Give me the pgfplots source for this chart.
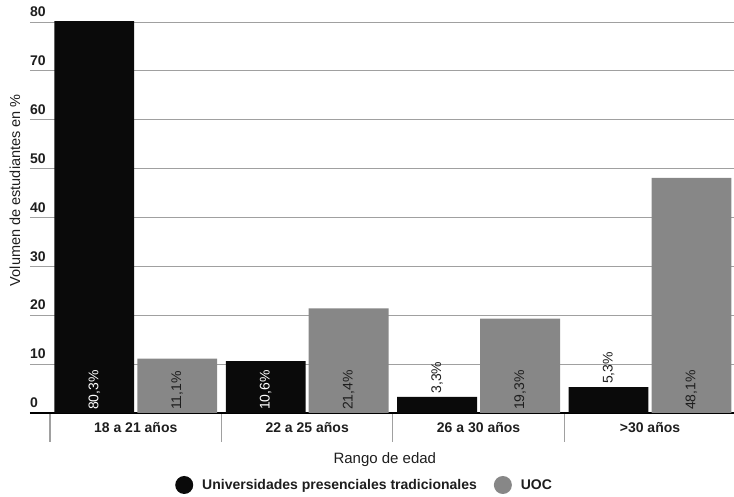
\documentclass[border=0pt]{standalone}
\usepackage{pgfplots}
\pgfplotsset{compat=1.18}
\usepackage{fontspec}
\setmainfont{Liberation Sans}
\definecolor{barblack}{RGB}{10,10,10}
\definecolor{bargray}{RGB}{135,135,135}
\definecolor{gridgray}{RGB}{160,160,160}
\definecolor{txt}{RGB}{30,30,30}
\begin{document}
\begin{tikzpicture}
\begin{axis}[
  name=ax,
  scale only axis,
  width=704bp, height=391bp,
  xmin=-0.617, xmax=3.49,
  ymin=0, ymax=80,
  axis x line*=bottom,
  axis y line*=left,
  x axis line style={black, line width=1.2bp},
  y axis line style={draw=none},
  ytick={0,10,...,80},
  ymajorgrids,
  grid style={gridgray, line width=0.8bp},
  major y tick style={draw=none},
  major tick length=0pt,
  tick align=outside,
  /pgf/number format/assume math mode=true,
  yticklabel style={anchor=south west, inner sep=0pt, yshift=5bp, font=\fontsize{14bp}{16bp}\selectfont\bfseries, text=txt},
  xtick={0,1,2,3},
  xticklabels={18 a 21 años, 22 a 25 años, 26 a 30 años, >30 años},
  xticklabel style={yshift=-6bp, font=\fontsize{14bp}{16bp}\selectfont\bfseries, text=txt},
  major x tick style={draw=none},
  minor xtick={-0.5,0.5,1.5,2.5},
  minor tick length=29bp,
  minor x tick style={gridgray, line width=1.2bp},
  xtick pos=bottom,
  xlabel={Rango de edad},
  xlabel style={at={(axis description cs:0.504,0)}, anchor=center, yshift=-47bp, font=\fontsize{15bp}{17bp}\selectfont, text=txt},
  ylabel={Volumen de estudiantes en \%},
  ylabel style={at={(axis description cs:-0.0213,0.57)}, anchor=center, font=\fontsize{14.5bp}{17bp}\selectfont, text=txt},
  legend columns=2,
  legend style={at={(axis description cs:0.206,0)}, anchor=west, yshift=-72bp, draw=none, inner sep=0pt,
    font=\fontsize{14bp}{16bp}\selectfont\bfseries, text=txt,
    /tikz/every odd column/.append style={column sep=7bp},
    /tikz/every even column/.append style={column sep=15bp}},
]
\addplot[ybar, bar width=0.466, bar shift=-0.242, fill=barblack, draw=none,
  legend image code/.code={\fill[barblack] (0bp,0bp) circle (9bp);}]
  coordinates {(0,80.3) (1,10.6) (2,3.3) (3,5.3)};
\addlegendentry{Universidades presenciales tradicionales}
\addplot[ybar, bar width=0.466, bar shift=0.242, fill=bargray, draw=none,
  legend image code/.code={\fill[bargray] (0bp,0bp) circle (9bp);}]
  coordinates {(0,11.1) (1,21.4) (2,19.3) (3,48.1)};
\addlegendentry{UOC}
% value labels
\addplot[forget plot, draw=none, mark=none, nodes near coords, point meta=explicit symbolic,
  every node near coord/.style={rotate=90, anchor=west, inner sep=3bp, text=white, font=\fontsize{14bp}{16bp}\selectfont}]
  coordinates {(-0.242,0) [80,3\%] (0.758,0) [10,6\%]};
\addplot[forget plot, draw=none, mark=none, nodes near coords, point meta=explicit symbolic,
  every node near coord/.style={rotate=90, anchor=west, inner sep=3bp, text=txt, font=\fontsize{14bp}{16bp}\selectfont}]
  coordinates {(1.758,3.3) [3,3\%] (2.758,5.3) [5,3\%]};
\addplot[forget plot, draw=none, mark=none, nodes near coords, point meta=explicit symbolic,
  every node near coord/.style={rotate=90, anchor=west, inner sep=3bp, text=txt, font=\fontsize{14bp}{16bp}\selectfont}]
  coordinates {(0.242,0) [11,1\%] (1.242,0) [21,4\%] (2.242,0) [19,3\%] (3.242,0) [48,1\%]};
\end{axis}
\pgfresetboundingbox
\path ([shift={(-30bp,-84bp)}]ax.south west) rectangle ([shift={(0bp,22bp)}]ax.north east);
\end{tikzpicture}
\end{document}
